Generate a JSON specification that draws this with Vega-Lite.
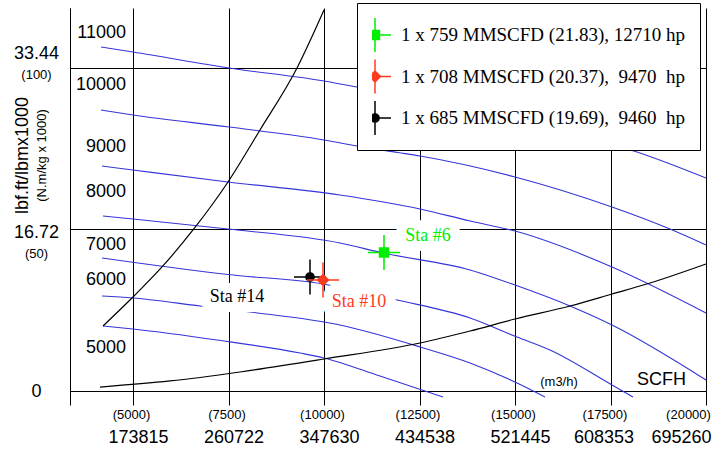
{
  "$schema": "https://vega.github.io/schema/vega-lite/v6.json",
  "width": 636,
  "height": 383,
  "autosize": {"type": "none"},
  "padding": {"left": 70, "top": 8, "right": 8, "bottom": 59},
  "background": "white",
  "config": {
    "view": {"stroke": null},
    "font": "Liberation Sans",
    "axis": {"labelFont": "Liberation Sans", "titleFont": "Liberation Sans", "labelColor": "black", "titleColor": "black"}
  },
  "datasets": {
    "speed": [
      {"curve": "11000", "x": 4162, "y": 35.61}, {"curve": "11000", "x": 4999, "y": 35.10}, {"curve": "11000", "x": 7512, "y": 33.44}, {"curve": "11000", "x": 9999, "y": 32.09}, {"curve": "11000", "x": 10863, "y": 31.47}, {"curve": "11000", "x": 13298, "y": 29.61}, {"curve": "11000", "x": 15916, "y": 27.23}, {"curve": "11000", "x": 18193, "y": 24.74}, {"curve": "11000", "x": 20000, "y": 22.05},
      {"curve": "10000", "x": 4162, "y": 29.09}, {"curve": "10000", "x": 4999, "y": 28.57}, {"curve": "10000", "x": 7512, "y": 27.33}, {"curve": "10000", "x": 9999, "y": 25.99}, {"curve": "10000", "x": 10863, "y": 25.36}, {"curve": "10000", "x": 11937, "y": 24.69}, {"curve": "10000", "x": 12513, "y": 24.33}, {"curve": "10000", "x": 15000, "y": 22.16}, {"curve": "10000", "x": 17539, "y": 19.05}, {"curve": "10000", "x": 19057, "y": 16.77}, {"curve": "10000", "x": 20000, "y": 15.12},
      {"curve": "9000", "x": 4188, "y": 23.29}, {"curve": "9000", "x": 4999, "y": 22.88}, {"curve": "9000", "x": 7486, "y": 21.64}, {"curve": "9000", "x": 10418, "y": 20.29}, {"curve": "9000", "x": 12513, "y": 18.84}, {"curve": "9000", "x": 13822, "y": 17.60}, {"curve": "9000", "x": 15000, "y": 16.56}, {"curve": "9000", "x": 17539, "y": 12.84}, {"curve": "9000", "x": 20000, "y": 8.08},
      {"curve": "8000", "x": 4214, "y": 18.12}, {"curve": "8000", "x": 4999, "y": 17.81}, {"curve": "8000", "x": 7486, "y": 16.77}, {"curve": "8000", "x": 10418, "y": 15.32}, {"curve": "8000", "x": 11544, "y": 14.29}, {"curve": "8000", "x": 13822, "y": 12.53}, {"curve": "8000", "x": 15000, "y": 10.97}, {"curve": "8000", "x": 16440, "y": 8.80}, {"curve": "8000", "x": 17539, "y": 6.83}, {"curve": "8000", "x": 20000, "y": 1.14},
      {"curve": "7000", "x": 4188, "y": 13.77}, {"curve": "7000", "x": 7486, "y": 12.06}, {"curve": "7000", "x": 9973, "y": 11.08}, {"curve": "7000", "x": 11911, "y": 9.42}, {"curve": "7000", "x": 13822, "y": 7.56}, {"curve": "7000", "x": 15052, "y": 5.59}, {"curve": "7000", "x": 15916, "y": 4.24}, {"curve": "7000", "x": 17539, "y": 0.62}, {"curve": "7000", "x": 18089, "y": -0.62},
      {"curve": "6000", "x": 4188, "y": 9.84}, {"curve": "6000", "x": 4999, "y": 9.63}, {"curve": "6000", "x": 6753, "y": 8.80}, {"curve": "6000", "x": 8062, "y": 8.18}, {"curve": "6000", "x": 10418, "y": 6.83}, {"curve": "6000", "x": 12513, "y": 4.56}, {"curve": "6000", "x": 13822, "y": 2.90}, {"curve": "6000", "x": 15052, "y": 0.83}, {"curve": "6000", "x": 15785, "y": -0.62},
      {"curve": "5000", "x": 4214, "y": 6.73}, {"curve": "5000", "x": 4999, "y": 6.42}, {"curve": "5000", "x": 7198, "y": 5.28}, {"curve": "5000", "x": 9371, "y": 3.93}, {"curve": "5000", "x": 9999, "y": 3.42}, {"curve": "5000", "x": 11465, "y": 1.55}, {"curve": "5000", "x": 13115, "y": -0.62}
    ],
    "limits": [
      {"curve": "surge", "x": 4214, "y": 6.73}, {"curve": "surge", "x": 4999, "y": 9.73}, {"curve": "surge", "x": 5758, "y": 12.84}, {"curve": "surge", "x": 6570, "y": 16.67}, {"curve": "surge", "x": 7486, "y": 21.64}, {"curve": "surge", "x": 8324, "y": 27.02}, {"curve": "surge", "x": 9293, "y": 33.44}, {"curve": "surge", "x": 9999, "y": 39.44},
      {"curve": "choke", "x": 4135, "y": 0.41}, {"curve": "choke", "x": 5968, "y": 1.04}, {"curve": "choke", "x": 7800, "y": 1.97}, {"curve": "choke", "x": 9999, "y": 3.31}, {"curve": "choke", "x": 12513, "y": 4.97}, {"curve": "choke", "x": 13822, "y": 6.21}, {"curve": "choke", "x": 15000, "y": 7.45}, {"curve": "choke", "x": 16440, "y": 8.80}, {"curve": "choke", "x": 17539, "y": 10.04}, {"curve": "choke", "x": 18534, "y": 11.18}, {"curve": "choke", "x": 20000, "y": 13.15}
    ],
    "speedlabels": [
      {"label": "11000", "x": 4816, "y": 37.06},
      {"label": "10000", "x": 4816, "y": 31.68},
      {"label": "9000", "x": 4816, "y": 25.26},
      {"label": "8000", "x": 4816, "y": 20.60},
      {"label": "7000", "x": 4816, "y": 15.12},
      {"label": "6000", "x": 4816, "y": 11.49},
      {"label": "5000", "x": 4816, "y": 4.45}
    ],
    "stalabels": [
      {"label": "Sta #14", "x": 7722, "y": 9.73},
      {"label": "Sta #10", "x": 10916, "y": 9.21},
      {"label": "Sta #6", "x": 12722, "y": 16.05}
    ],
    "points": [
      {"series": "1 x 685 MMSCFD (19.69),\u00a0 9460\u00a0 hp", "x": 9633, "y": 11.80},
      {"series": "1 x 708 MMSCFD (20.37),\u00a0 9470\u00a0 hp", "x": 9973, "y": 11.49},
      {"series": "1 x 759 MMSCFD (21.83), 12710 hp", "x": 11570, "y": 14.34}
    ]
  },
  "layer": [
    {
      "encoding": {
        "x": {
          "field": "x", "type": "quantitative",
          "scale": {"domain": [3350, 20000], "nice": false, "zero": false},
          "axis": {
            "values": [3350, 5000, 7500, 10000, 12500, 15000, 17500, 20000],
            "labelExpr": "datum.value < 4000 ? '' : ['173815','260722','347630','434538','521445','608353','695260'][indexof([5000,7500,10000,12500,15000,17500,20000], datum.value)]",
            "grid": true, "gridColor": "black", "gridOpacity": 1, "gridWidth": 1,
            "ticks": true, "tickSize": 14, "tickColor": "black", "tickWidth": 1,
            "domain": true, "domainColor": "black", "domainWidth": 1,
            "labelFontSize": 18, "labelBaseline": "middle", "labelAlign": "center", "labelPadding": 32,
            "labelFlush": false, "labelOverlap": false,
            "labelOffset": {"condition": [{"test": "datum.value >= 20000", "value": -25}, {"test": "datum.value >= 17500", "value": -7}], "value": 5},
            "title": null
          }
        },
        "y": {
          "field": "y", "type": "quantitative",
          "scale": {"domain": [0, 39.65], "nice": false, "zero": false},
          "axis": {
            "values": [0, 16.72, 33.44],
            "labelExpr": "datum.value > 30 ? '33.44' : datum.value > 10 ? '16.72' : '0'",
            "grid": true, "gridColor": "black", "gridOpacity": 1, "gridWidth": 1,
            "ticks": false, "domain": true, "domainColor": "black",
            "labelFontSize": 18, "labelAlign": "center", "labelBaseline": "middle", "labelPadding": 34,
            "labelFlush": false, "labelOverlap": false,
            "labelOffset": {"condition": [{"test": "datum.value > 30", "value": -14}, {"test": "datum.value > 10", "value": 3}], "value": 0},
            "title": "lbf.ft/lbmx1000", "titleFontSize": 18, "titleFontWeight": "normal",
            "titleX": -48, "titleY": 147, "titleAngle": 270, "titleAlign": "center", "titleBaseline": "middle"
          }
        }
      },
      "layer": [
        {
          "data": {"name": "speed"},
          "mark": {"type": "line", "color": "#3535d8", "strokeWidth": 1.1, "interpolate": "monotone"},
          "encoding": {"detail": {"field": "curve"}}
        },
        {
          "data": {"name": "limits"},
          "mark": {"type": "line", "color": "black", "strokeWidth": 1.2, "interpolate": "monotone"},
          "encoding": {"detail": {"field": "curve"}}
        },
        {
          "data": {"name": "speedlabels"},
          "mark": {"type": "text", "align": "right", "baseline": "middle", "fontSize": 18, "font": "Liberation Sans", "color": "black"},
          "encoding": {"text": {"field": "label"}}
        },
        {
          "data": {"values": [{"label": "SCFH", "x": 18835, "y": 1.14}]},
          "mark": {"type": "text", "align": "center", "baseline": "middle", "fontSize": 18, "font": "Liberation Sans", "color": "black"},
          "encoding": {"text": {"field": "label"}}
        },
        {
          "data": {"values": [{"label": "(m3/h)", "x": 16152, "y": 0.93}]},
          "mark": {"type": "text", "align": "center", "baseline": "middle", "fontSize": 13, "font": "Liberation Sans", "color": "black"},
          "encoding": {"text": {"field": "label"}}
        },
        {
          "data": {"name": "stalabels"},
          "mark": {"type": "text", "align": "center", "baseline": "middle", "fontSize": 18, "font": "Liberation Serif", "fill": "white", "stroke": "white", "strokeWidth": 20, "strokeJoin": "round"},
          "encoding": {"text": {"field": "label"}}
        },
        {
          "data": {"name": "stalabels"},
          "mark": {"type": "text", "align": "center", "baseline": "middle", "fontSize": 18, "font": "Liberation Serif"},
          "encoding": {
            "text": {"field": "label"},
            "fill": {"field": "label", "type": "nominal", "scale": {"domain": ["Sta #14", "Sta #10", "Sta #6"], "range": ["black", "#ff3b1f", "#00ee00"]}, "legend": null}
          }
        },
        {
          "data": {"name": "points"},
          "mark": {"type": "point", "filled": true, "size": 1024, "strokeWidth": 1.5, "opacity": 1},
          "encoding": {
            "color": {
              "field": "series", "type": "nominal",
              "scale": {"domain": ["1 x 759 MMSCFD (21.83), 12710 hp", "1 x 708 MMSCFD (20.37),\u00a0 9470\u00a0 hp", "1 x 685 MMSCFD (19.69),\u00a0 9460\u00a0 hp"], "range": ["#00ee00", "#ff3b1f", "black"]},
              "legend": {
                "title": null, "orient": "none", "legendX": 287, "legendY": -5,
                "fillColor": "white", "strokeColor": "black", "padding": 15,
                "symbolSize": 1024, "symbolStrokeWidth": 1.5, "symbolOffset": -14,
                "labelFont": "Liberation Serif", "labelFontSize": 19, "labelOffset": 9, "labelLimit": 0,
                "rowPadding": 7.5, "clipHeight": 34,
                "encode": {"labels": {"update": {"fill": {"signal": "indexof(datum.value, '759') >= 0 ? '#00ee00' : indexof(datum.value, '708') >= 0 ? '#ff3b1f' : 'black'"}}}}
              }
            },
            "stroke": {
              "field": "series", "type": "nominal",
              "scale": {"domain": ["1 x 759 MMSCFD (21.83), 12710 hp", "1 x 708 MMSCFD (20.37),\u00a0 9470\u00a0 hp", "1 x 685 MMSCFD (19.69),\u00a0 9460\u00a0 hp"], "range": ["#00ee00", "#ff3b1f", "black"]}
            },
            "shape": {
              "field": "series", "type": "nominal",
              "scale": {"domain": ["1 x 759 MMSCFD (21.83), 12710 hp", "1 x 708 MMSCFD (20.37),\u00a0 9470\u00a0 hp", "1 x 685 MMSCFD (19.69),\u00a0 9460\u00a0 hp"], "range": ["M-1,0H1M0,-1.1V1.1M-0.28,-0.28H0.28V0.28H-0.28Z", "M-1,0H1M0,-1.1V1.1M0,-0.34L0.34,0L0,0.34L-0.34,0Z", "M-1,0H1M0,-1.1V1.1M0.26,0L0.225,0.13L0.13,0.225L0,0.26L-0.13,0.225L-0.225,0.13L-0.26,0L-0.225,-0.13L-0.13,-0.225L0,-0.26L0.13,-0.225L0.225,-0.13Z"]}
            }
          }
        }
      ]
    },
    {
      "data": {"name": "points"},
      "mark": {"type": "point", "opacity": 0},
      "encoding": {
        "x": {
          "field": "x", "type": "quantitative",
          "scale": {"domain": [3350, 20000], "nice": false, "zero": false},
          "axis": {
            "orient": "bottom",
            "values": [5000, 7500, 10000, 12500, 15000, 17500, 20000],
            "labelExpr": "'(' + datum.value + ')'",
            "grid": false, "ticks": false, "domain": false,
            "labelFontSize": 13, "labelBaseline": "middle", "labelAlign": "center", "labelPadding": 23,
            "labelFlush": false, "labelOverlap": false,
            "labelOffset": {"condition": [{"test": "datum.value >= 20000", "value": -18}, {"test": "datum.value >= 17500", "value": -6}], "value": -2},
            "title": null
          }
        },
        "y": {
          "field": "y", "type": "quantitative",
          "scale": {"domain": [0, 39.65], "nice": false, "zero": false},
          "axis": {
            "orient": "left",
            "values": [16.72, 33.44],
            "labelExpr": "datum.value > 30 ? '(100)' : '(50)'",
            "grid": false, "ticks": false, "domain": false,
            "labelFontSize": 13, "labelAlign": "center", "labelBaseline": "middle", "labelPadding": 34,
            "labelFlush": false, "labelOverlap": false,
            "labelOffset": {"condition": {"test": "datum.value > 30", "value": 6.5}, "value": 24},
            "title": "(N.m/kg x 1000)", "titleFontSize": 13, "titleFontWeight": "normal",
            "titleX": -28.5, "titleY": 147, "titleAngle": 270, "titleAlign": "center", "titleBaseline": "middle"
          }
        }
      }
    }
  ],
  "resolve": {"scale": {"x": "independent", "y": "independent"}}
}
